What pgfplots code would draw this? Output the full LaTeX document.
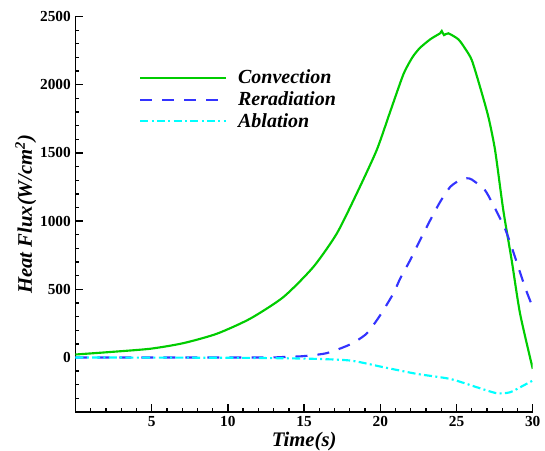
\documentclass[border=0pt]{standalone}
\usepackage{fontspec}
\setmainfont{Liberation Serif}
\usepackage{pgfplots}
\pgfplotsset{compat=1.18}

\definecolor{convgreen}{RGB}{0,204,0}
\definecolor{reradblue}{RGB}{51,51,255}
\definecolor{ablcyan}{RGB}{0,255,255}

\begin{document}
\begin{tikzpicture}
% frame of the 545x450 picture, 1px = 0.75pt
\path[use as bounding box] (-56.6pt,-28.5pt) rectangle (352.1pt,309pt);
\begin{axis}[
    at={(0,0)}, anchor=south west,
    scale only axis,
    width=342.9pt, height=296.6pt,
    xmin=0, xmax=30,
    ymin=-400, ymax=2500,
    axis x line*=bottom,
    axis y line*=left,
    axis line style={line width=1.4pt},
    xtick={5,10,...,30},
    minor xtick={1,2,...,29},
    ytick={0,500,...,2500},
    minor ytick={-300,-200,...,2400},
    tick align=inside,
    major tick length=6pt,
    minor tick length=3pt,
    every tick/.style={black, line width=1pt},
    /pgf/number format/assume math mode=true,
    /pgf/number format/1000 sep={},
    ticklabel style={font=\bfseries\fontsize{11.5}{12}\selectfont},
    xlabel={\textbf{\textit{Time(s)}}},
    ylabel={\textbf{\textit{Heat Flux(W/cm\textsuperscript{2})}}},
    label style={font=\fontsize{15.5}{18}\selectfont},
    xlabel style={yshift=3pt},
    ylabel style={yshift=-4pt},
    legend style={draw=none, fill=none, at={(0.139,0.872)}, anchor=north west,
        inner sep=0pt, row sep=0.3pt,
        font=\bfseries\itshape\fontsize{15}{17}\selectfont,
        nodes={inner xsep=8pt}},
    legend cell align=left,
    legend image code/.code={\draw[#1] (0pt,0pt) -- (64.5pt,0pt);},
]
\addplot[convgreen, line width=1.6pt, smooth, tension=0.4] coordinates {
    (0,22) (2,38) (4.89,64) (7.07,105) (9.27,174) (11.45,284) (13.64,443)
    (15.60,663) (17.14,908) (18.45,1202) (19.76,1520) (20.64,1800)
    (21.51,2075) (22.1,2200) (22.60,2270) (23.3,2335) (23.92,2377) (24.03,2394)
    (24.18,2364) (24.46,2377) (25.12,2333) (25.56,2266) (26.0,2181)
    (26.54,1985) (27.09,1764) (27.53,1520) (28.07,1079) (28.62,712)
    (29.17,321) (30,-83)
};
\addlegendentry{Convection}
\addplot[reradblue, line width=1.6pt, smooth, tension=0.4, dash pattern=on 9pt off 7.5pt] coordinates {
    (0,0) (12,0) (13.5,3) (14.95,10) (16.48,32) (18.0,95) (19.1,175)
    (19.98,308) (20.85,468) (21.3,578) (21.95,712) (22.6,859) (23.27,1006)
    (23.92,1140) (24.58,1250) (25.2,1300) (25.67,1314) (26.0,1305)
    (26.87,1226) (27.53,1092) (28.18,945) (28.73,773) (29.49,516) (30,369)
};
\addlegendentry{Reradiation}
\addplot[ablcyan, line width=1.6pt, smooth, tension=0.4, dash pattern=on 6pt off 2.5pt on 1.5pt off 2.5pt] coordinates {
    (0,0) (10,-2) (15,-8) (18.0,-22) (20.2,-71) (22.39,-120) (24.58,-157)
    (26.33,-218) (27.64,-262) (28.51,-255) (29.38,-206) (30,-169)
};
\addlegendentry{Ablation}
\end{axis}
\end{tikzpicture}
\end{document}
